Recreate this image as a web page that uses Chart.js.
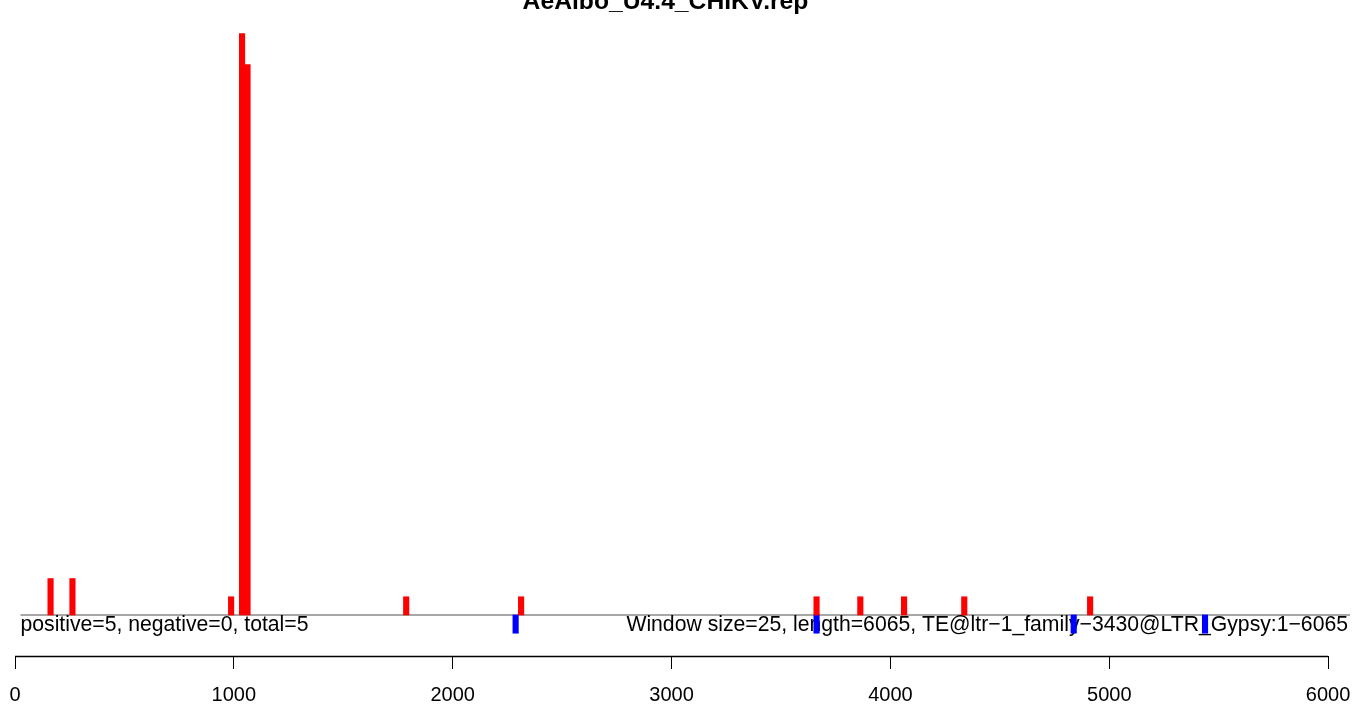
<!DOCTYPE html>
<html>
<head>
<meta charset="utf-8">
<script src="https://cdn.jsdelivr.net/npm/chart.js@4/dist/chart.umd.min.js"></script>
<style>
  html, body { margin: 0; padding: 0; background: #fff; }
  #wrap { position: relative; width: 1353px; height: 707px; }
</style>
</head>
<body>
<div id="wrap"><canvas id="grafico-rep"></canvas></div>
<script>
'use strict';

// datos (ventana de 25)
const tamVentana = 25;
const longitud = 6100;
const posInicio = [150, 250, 975, 1025, 1050, 1775, 2300, 3650, 3850, 4050, 4325, 4900];
const posValor = [2, 2, 1, 31.9, 30.2, 1, 1, 1, 1, 1, 1, 1];
const negInicio = [2275, 3650, 4825, 5425];
const negValor = [-1, -1, -1, -1];
const ticksX = [0, 1000, 2000, 3000, 4000, 5000, 6000];

const titulo = 'AeAlbo_U4.4_CHIKV.rep';
const textoIzq = 'positive=5, negative=0, total=5';
const textoDer = 'Window size=25, length=6065, TE@ltr\u22121_family\u22123430@LTR_Gypsy:1\u22126065';

const fuente = '"Liberation Sans", Arial, sans-serif';
Chart.defaults.font.family = fuente;

// ventanas (categorías) de 0 a longitud
const ventanas = [];
for (let v = 0; v < longitud; v += tamVentana) ventanas.push(v);

function serie(inicios, valores) {
    return ventanas.map(v => {
        const i = inicios.indexOf(v);
        return i >= 0 ? valores[i] : null;
    });
}

// línea base, textos, eje y título
const decoracion = {
    id: 'decoracion',
    beforeDatasetsDraw(chart) {
        const { ctx, chartArea, scales } = chart;
        const x = scales.x, y = scales.y;
        const y0 = y.getPixelForValue(0);
        ctx.save();
        ctx.strokeStyle = '#8a8a8a';
        ctx.lineWidth = 1.5;
        ctx.beginPath();
        ctx.moveTo(x.getPixelForValue(tamVentana), y0);
        ctx.lineTo(chartArea.right, y0);
        ctx.stroke();

        ctx.fillStyle = '#000';
        ctx.font = '21.2px ' + fuente;
        ctx.textBaseline = 'alphabetic';
        ctx.textAlign = 'left';
        ctx.fillText(textoIzq, x.getPixelForValue(tamVentana), y0 + 16);
        ctx.textAlign = 'right';
        ctx.fillText(textoDer, chartArea.right - 2, y0 + 16);
        ctx.restore();
    },
    afterDraw(chart) {
        const { ctx, chartArea, scales } = chart;
        const x = scales.x;
        ctx.save();
        ctx.strokeStyle = '#000';
        ctx.lineWidth = 1.5;
        ctx.beginPath();
        ctx.moveTo(x.getPixelForValue(ticksX[0]), chartArea.bottom + 0.5);
        ctx.lineTo(x.getPixelForValue(ticksX[ticksX.length - 1]), chartArea.bottom + 0.5);
        ctx.stroke();

        ctx.fillStyle = '#000';
        ctx.font = 'bold 24.7px ' + fuente;
        ctx.textAlign = 'center';
        ctx.textBaseline = 'alphabetic';
        ctx.fillText(titulo, (chartArea.left + chartArea.right) / 2 - 17, 9);
        ctx.restore();
    }
};

const ctx = document.getElementById('grafico-rep').getContext('2d');
new Chart(ctx, {
    type: 'bar',
    data: {
        labels: ventanas,
        datasets: [
            {
                label: 'positive',
                data: serie(posInicio, posValor),
                backgroundColor: '#ff0000',
                xAxisID: 'xb',
                barPercentage: 1,
                categoryPercentage: 1
            },
            {
                label: 'negative',
                data: serie(negInicio, negValor),
                backgroundColor: '#0000ff',
                xAxisID: 'xb',
                barPercentage: 1,
                categoryPercentage: 1
            }
        ]
    },
    options: {
        responsive: true,
        maintainAspectRatio: false,
        animation: false,
        layout: { padding: { left: 15, right: 3, top: 8, bottom: 0 } },
        plugins: {
            legend: { display: false },
            tooltip: { enabled: false },
            title: { display: false }
        },
        scales: {
            xb: {
                type: 'category',
                display: false,
                stacked: true,
                offset: true
            },
            x: {
                type: 'linear',
                position: 'bottom',
                min: 0,
                max: longitud,
                offset: false,
                afterBuildTicks: s => { s.ticks = ticksX.map(v => ({ value: v })); },
                afterFit: s => {
                    s.height = 51;
                    s.paddingLeft = 0;
                    s.paddingRight = 0;
                },
                ticks: {
                    color: '#000',
                    font: { size: 20 },
                    padding: 14,
                    maxRotation: 0,
                    autoSkip: false,
                    includeBounds: false,
                    callback: v => String(v)
                },
                grid: {
                    offset: false,
                    drawOnChartArea: false,
                    drawTicks: true,
                    tickLength: 13,
                    color: '#000',
                    lineWidth: 1
                },
                border: { display: false }
            },
            y: {
                display: false,
                min: -2.25,
                max: 33.3
            }
        }
    },
    plugins: [decoracion]
});
</script>
</body>
</html>
